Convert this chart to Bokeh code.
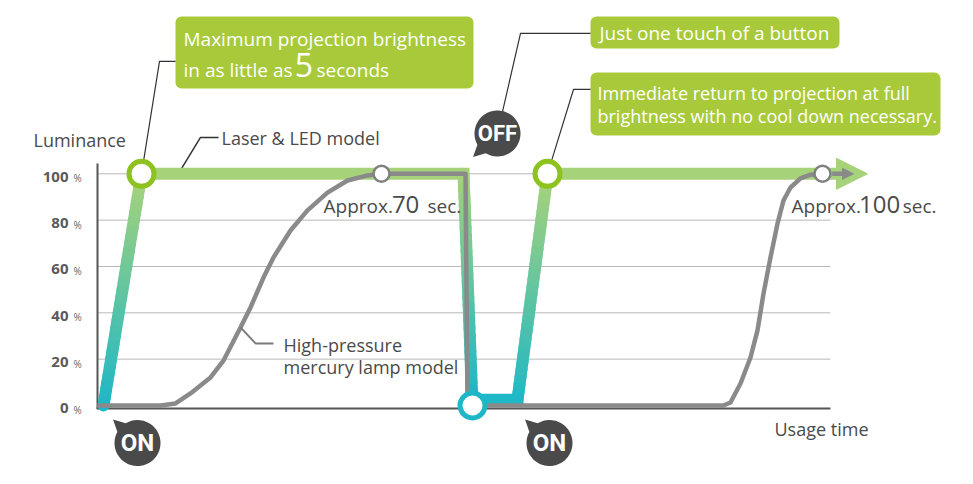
import numpy as np
from bokeh.plotting import figure
from bokeh.models import Range1d, BoxAnnotation, Arrow, NormalHead
from bokeh.core.properties import value
from bokeh.embed import file_html
from bokeh.resources import INLINE

# ---------------- data ----------------
lum_ticks = [0, 20, 40, 60, 80, 100]
tick_labels = ["0", "20", "40", "60", "80", "100"]

# Laser & LED model (usage time units, luminance %)
laser_time = [1.5, 11, 91.5, 93.75, 95, 105, 112.5, 185]
laser_lum = [0, 100, 100, 0, 2.5, 2.5, 100, 100]
laser_arrow_tip = 192.5

# High-pressure mercury lamp model
mercury_time = [0, 15.75, 19.5, 23.25, 28.25, 31.5, 35.75, 38.25, 41.5, 44, 48.25,
                52.5, 57.5, 62.5, 67.5, 71, 92, 92.5, 156.5, 158.25, 160.75, 163.25,
                165, 166.5, 168.25, 170, 171.5, 173.25, 175.75, 178.25, 181.25]
mercury_lum = [0, 0, 0.9, 5.2, 12.1, 19.4, 33.7, 42.3, 55.2, 63.9, 75.5,
               84.2, 91.9, 97.1, 99.3, 100, 100, 0, 0, 1.3, 9.5, 20.7,
               32.4, 48.3, 63.9, 78.5, 88.5, 94.1, 98, 99.6, 100]
mercury_arrow_tip = 189

# event bubbles: (time, luminance)
on_events = [(10, -16.2), (113, -16.2)]
off_event = (100, 117.4)

axis_start_y = -1.29
axis_top_y = 104.4
axis_end = 183.25

# ---------------- figure ----------------
W, H = 973, 484
X0, X1 = -24.25, 219.0
Y0, Y1 = -34.1, 174.8
XS = W / (X1 - X0)      # px per x unit
YS = H / (Y1 - Y0)      # px per y unit

p = figure(width=W, height=H, output_backend="svg", toolbar_location=None,
           x_range=Range1d(X0, X1), y_range=Range1d(Y0, Y1),
           min_border_left=0, min_border_right=0, min_border_top=0,
           min_border_bottom=0)
p.outline_line_color = None
p.background_fill_color = "white"
p.border_fill_color = "white"
p.xgrid.visible = False
p.ygrid.visible = False
p.xaxis.visible = False
p.yaxis.visible = False

BOX = "#a8ca3a"
DARK = "#333333"
TXT = "#4a4a4a"
GRAY = "#8a8a8a"
AX = "#555555"
TEAL = np.array([26, 183, 201])
GREEN = np.array([166, 210, 122])


def lum_color(l):
    c = TEAL + (GREEN - TEAL) * np.clip(l / 100.0, 0, 1)
    return "#%02x%02x%02x" % tuple(int(round(v)) for v in c)


def txt(x, y, s, size, color, bold=False, align="left", baseline="alphabetic", font="Open Sans"):
    if baseline == "alphabetic":
        y = y + 0.35 * size / YS
    p.text(x=[x], y=[y], text=[s], text_font=value(font),
           text_font_size=f"{size}px", text_color=color,
           text_font_style="bold" if bold else "normal",
           text_align=align, text_baseline=baseline)


# gridlines
for t in lum_ticks[1:]:
    p.segment(x0=[0], y0=[t], x1=[axis_end], y1=[t], line_color="#b8b8b8", line_width=1)

# axes
p.segment(x0=[0], y0=[axis_start_y], x1=[0], y1=[axis_top_y], line_color=AX, line_width=2)
p.segment(x0=[-0.25], y0=[axis_start_y], x1=[axis_end], y1=[axis_start_y], line_color=AX,
          line_width=2)
for t, s in zip(lum_ticks, tick_labels):
    txt(-7.25, t - 3.45, s, 15, "#5a5a5a", bold=True, align="right")
    txt(-6.0, t - 3.45, "%", 10, "#666666")
txt(-16, 111.8, "Luminance", 18, TXT)
txt(169.25, -12.9, "Usage time", 18, TXT)

# callout connectors
p.line([laser_time[1], 15.5, 19.5], [100, 148.5, 148.5], line_color=DARK, line_width=1.2)
p.line([off_event[0], 105.75, 123.25], [off_event[1], 160.6, 160.6], line_color=DARK,
       line_width=1.2)
p.line([laser_time[6], 119, 123.25], [100, 136.4, 136.4], line_color=DARK, line_width=1.2)
p.line([20.2, 25.75, 30.25], [100, 115.7, 115.7], line_color=DARK, line_width=1.5)

# green arrow head (under everything)
p.add_layout(Arrow(end=NormalHead(size=31, fill_color=lum_color(100), line_color=lum_color(100),
                                  line_width=1),
                   x_start=laser_time[-1] - 1, y_start=laser_lum[-1],
                   x_end=laser_arrow_tip, y_end=laser_lum[-1],
                   line_alpha=0, level="underlay"))

# laser line: gradient on slopes, flat colours on horizontals
gx, gy, gc = [], [], []
fx, fy, fc = [], [], []
for i in range(len(laser_time) - 1):
    t0, t1 = laser_time[i], laser_time[i + 1]
    l0, l1 = laser_lum[i], laser_lum[i + 1]
    if l0 == l1:
        fx.append([t0, t1]); fy.append([l0, l1]); fc.append(lum_color(l0))
    else:
        n = 30
        for k in range(n):
            a, b = k / n, (k + 1) / n
            gx.append([t0 + (t1 - t0) * a, t0 + (t1 - t0) * b])
            gy.append([l0 + (l1 - l0) * a, l0 + (l1 - l0) * b])
            gc.append(lum_color(l0 + (l1 - l0) * (a + b) / 2))
p.multi_line(xs=gx, ys=gy, line_color=gc, line_width=12, line_cap="round")
p.multi_line(xs=fx, ys=fy, line_color=fc, line_width=12, line_cap="square")

# mercury lamp line
p.line(mercury_time, mercury_lum, line_color=GRAY, line_width=4.5, line_join="round")
p.line([35.75, 39.5, 44], [33.7, 26.8, 26.8], line_color="#7a7a7a", line_width=2)

# gray arrow
p.add_layout(Arrow(end=NormalHead(size=11, fill_color=GRAY, line_color=GRAY, line_width=1),
                   x_start=mercury_time[-1] + 2.4, y_start=mercury_lum[-1],
                   x_end=mercury_arrow_tip, y_end=mercury_lum[-1],
                   line_color=GRAY, line_width=4.5))

# markers
p.scatter([laser_time[1], laser_time[6]], [laser_lum[1], laser_lum[6]], size=25,
          fill_color="white", line_color="#8dc21f", line_width=5)
p.scatter([laser_time[3]], [laser_lum[3]], size=25, fill_color="white",
          line_color="#1fb6c7", line_width=5)
p.scatter([mercury_time[15], mercury_time[-1]], [mercury_lum[15], mercury_lum[-1]], size=16,
          fill_color="white", line_color="#808080", line_width=2.5)

# callout boxes
for l, r, t, b in [(19.5, 94, 167.9, 136.8), (123.25, 185.5, 167.9, 154.1),
                   (123.25, 210.75, 143.7, 116.5)]:
    p.add_layout(BoxAnnotation(left=l, right=r, top=t, bottom=b, fill_color=BOX,
                               fill_alpha=1, line_color=None, border_radius=6,
                               level="underlay"))

txt(21.5, 155.4, "Maximum projection brightness", 19, "white")
txt(21.5, 142.0, "in as little as", 19, "white")
txt(49.3, 142.0, "5", 32, "white")
txt(54.75, 142.0, "seconds", 19, "white")
txt(125.5, 158.0, "Just one touch of a button", 19, "white")
txt(125.0, 132.1, "Immediate return to projection at full", 18, "white")
txt(125.0, 122.1, "brightness with no cool down necessary.", 18, "white")

txt(31, 112.6, "Laser & LED model", 18, TXT)
txt(46.5, 23.3, "High-pressure", 18, TXT)
txt(46.5, 13.8, "mercury lamp model", 18, TXT)

txt(56.5, 83.3, "Approx.", 19, TXT)
txt(73.6, 83.3, "70", 24, TXT)
txt(82.5, 83.3, "sec.", 19, TXT)
txt(173.5, 83.3, "Approx.", 19, TXT)
txt(190.4, 83.3, "100", 24, TXT)
txt(201.3, 83.3, "sec.", 19, TXT)


def bubble(cx, cy, tail_deg, word, fsize):
    R = 23.0
    th = np.radians(tail_deg)
    half = np.radians(15)
    angs = np.linspace(th + half, th + 2 * np.pi - half, 72)
    xs = list(cx + R / XS * np.cos(angs)) + [cx + 34 / XS * np.cos(th)]
    ys = list(cy + R / YS * np.sin(angs)) + [cy + 34 / YS * np.sin(th)]
    p.patch(xs, ys, fill_color="#4a4a4a", line_color=None)
    txt(cx, cy, word, fsize, "white", bold=True, align="center", baseline="middle",
        font="Roboto")


for cx, cy in on_events:
    bubble(cx, cy, 136, "ON", 24)
bubble(off_event[0], off_event[1], 224, "OFF", 22)

open("out.html", "w").write(file_html(p, INLINE))
